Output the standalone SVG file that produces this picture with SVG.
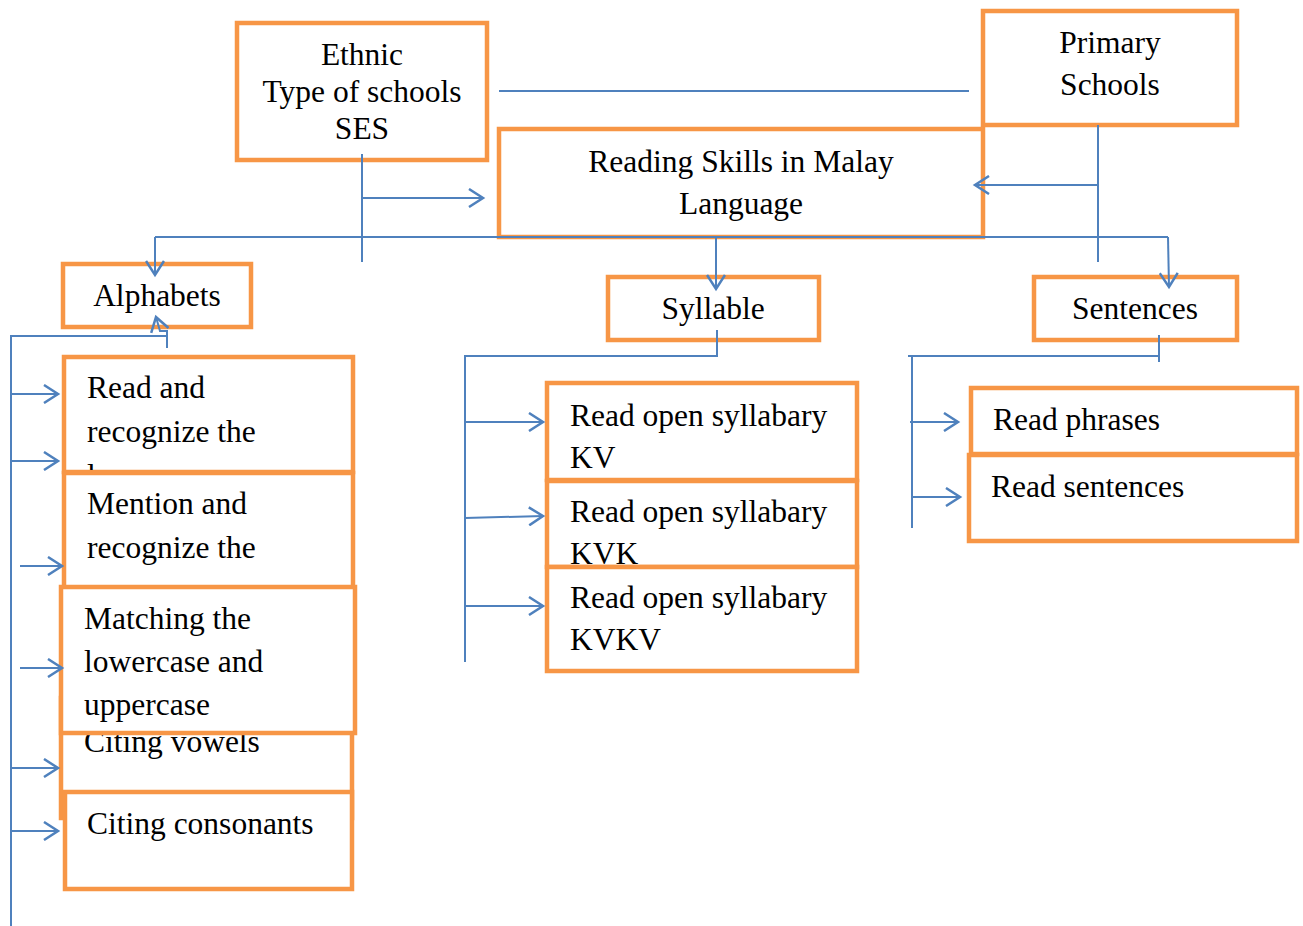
<svg xmlns="http://www.w3.org/2000/svg" width="1303" height="926" viewBox="0 0 1303 926">
<defs>
<style>
.box{fill:#fff;stroke:#F79646;stroke-width:4.5}
.t{font-family:"Liberation Serif","Times New Roman",serif;font-size:31.5px;fill:#000}
.c{text-anchor:middle}
.ln{fill:none;stroke:#4F81BD;stroke-width:2}
</style>
<marker id="ah" markerUnits="userSpaceOnUse" markerWidth="20" markerHeight="20" viewBox="-16 -10 18 20" refX="0" refY="0" orient="auto">
<path d="M-14,-9 L0,0 L-14,9" fill="none" stroke="#4F81BD" stroke-width="2.5"/>
</marker>
<clipPath id="cRead"><rect x="66" y="359" width="285" height="111"/></clipPath>
<clipPath id="cMent"><rect x="66" y="475" width="285" height="111"/></clipPath>
<clipPath id="cVow"><rect x="63" y="700" width="287" height="116"/></clipPath>
<clipPath id="cKVK"><rect x="549" y="483" width="306" height="82"/></clipPath>
</defs>

<g id="ethnic">
<rect class="box" x="237" y="23" width="250" height="137"/>
<text class="t c" x="362" y="65">Ethnic</text>
<text class="t c" x="362" y="102">Type of schools</text>
<text class="t c" x="362" y="139">SES</text>
</g>
<g id="primary">
<rect class="box" x="983" y="11" width="254" height="114"/>
<text class="t c" x="1110" y="53">Primary</text>
<text class="t c" x="1110" y="95">Schools</text>
</g>
<g id="reading">
<rect class="box" x="499" y="129" width="484" height="108"/>
<text class="t c" x="741" y="172">Reading Skills in Malay</text>
<text class="t c" x="741" y="214">Language</text>
</g>
<g id="alphabets">
<rect class="box" x="63" y="264" width="188" height="63"/>
<text class="t c" x="157" y="306">Alphabets</text>
</g>
<g id="syllable">
<rect class="box" x="608" y="277" width="211" height="63"/>
<text class="t c" x="713" y="319">Syllable</text>
</g>
<g id="sentences">
<rect class="box" x="1034" y="277" width="203" height="63"/>
<text class="t c" x="1135" y="319">Sentences</text>
</g>

<g id="read-lower">
<rect class="box" x="64" y="357" width="289" height="115"/>
<g clip-path="url(#cRead)">
<text class="t" x="87" y="398">Read and</text>
<text class="t" x="87" y="442">recognize the</text>
<text class="t" x="87" y="486">lowercase</text>
</g>
</g>
<g id="mention-upper">
<rect class="box" x="64" y="473" width="289" height="115"/>
<g clip-path="url(#cMent)">
<text class="t" x="87" y="514">Mention and</text>
<text class="t" x="87" y="558">recognize the</text>
<text class="t" x="87" y="602">uppercase</text>
</g>
</g>
<g id="citing-vowels">
<rect class="box" x="61" y="698" width="291" height="120"/>
<g clip-path="url(#cVow)">
<text class="t" x="84" y="752">Citing vowels</text>
</g>
</g>
<g id="matching">
<rect class="box" x="61" y="587" width="294" height="146"/>
<text class="t" x="84" y="629">Matching the</text>
<text class="t" x="84" y="672">lowercase and</text>
<text class="t" x="84" y="715">uppercase</text>
</g>
<g id="citing-consonants">
<rect class="box" x="65" y="792" width="287" height="97"/>
<text class="t" x="87" y="834">Citing consonants</text>
</g>

<g id="kv">
<rect class="box" x="547" y="383" width="310" height="97"/>
<text class="t" x="570" y="426">Read open syllabary</text>
<text class="t" x="570" y="468">KV</text>
</g>
<g id="kvk">
<rect class="box" x="547" y="481" width="310" height="86"/>
<g clip-path="url(#cKVK)">
<text class="t" x="570" y="522">Read open syllabary</text>
<text class="t" x="570" y="564">KVK</text>
</g>
</g>
<g id="kvkv">
<rect class="box" x="547" y="567" width="310" height="104"/>
<text class="t" x="570" y="608">Read open syllabary</text>
<text class="t" x="570" y="650">KVKV</text>
</g>

<g id="phrases">
<rect class="box" x="971" y="388" width="326" height="66"/>
<text class="t" x="993" y="430">Read phrases</text>
</g>
<g id="read-sentences">
<rect class="box" x="969" y="455" width="328" height="86"/>
<text class="t" x="991" y="497">Read sentences</text>
</g>

<g id="connectors">
<path class="ln" d="M499,91 H969"/>
<path class="ln" d="M362,154 V262"/>
<path class="ln" d="M362,198 H483" marker-end="url(#ah)"/>
<path class="ln" d="M1098,125 V262"/>
<path class="ln" d="M1098,185 H975" marker-end="url(#ah)"/>
<path class="ln" d="M155,237 H1168"/>
<path class="ln" d="M155,237 V275" marker-end="url(#ah)"/>
<path class="ln" d="M716,237 V289" marker-end="url(#ah)"/>
<path class="ln" d="M1168,237 L1169,287" marker-end="url(#ah)"/>

<path class="ln" d="M11,926 V336 H167 V348"/>
<path class="ln" d="M167,336 V331 H160 L156,317" marker-end="url(#ah)"/>
<path class="ln" d="M11,394 H58" marker-end="url(#ah)"/>
<path class="ln" d="M11,461 H58" marker-end="url(#ah)"/>
<path class="ln" d="M20,566 H62" marker-end="url(#ah)"/>
<path class="ln" d="M20,668 H62" marker-end="url(#ah)"/>
<path class="ln" d="M11,768 H58" marker-end="url(#ah)"/>
<path class="ln" d="M11,831 H58" marker-end="url(#ah)"/>

<path class="ln" d="M717,330 V356 H465 V662"/>
<path class="ln" d="M465,422 H543" marker-end="url(#ah)"/>
<path class="ln" d="M465,518 L543,516" marker-end="url(#ah)"/>
<path class="ln" d="M465,606 H543" marker-end="url(#ah)"/>

<path class="ln" d="M1159,335 V362"/>
<path class="ln" d="M1159,356 H908"/>
<path class="ln" d="M912,356 V528"/>
<path class="ln" d="M910,422 H958" marker-end="url(#ah)"/>
<path class="ln" d="M912,497 H960" marker-end="url(#ah)"/>
</g>
</svg>
